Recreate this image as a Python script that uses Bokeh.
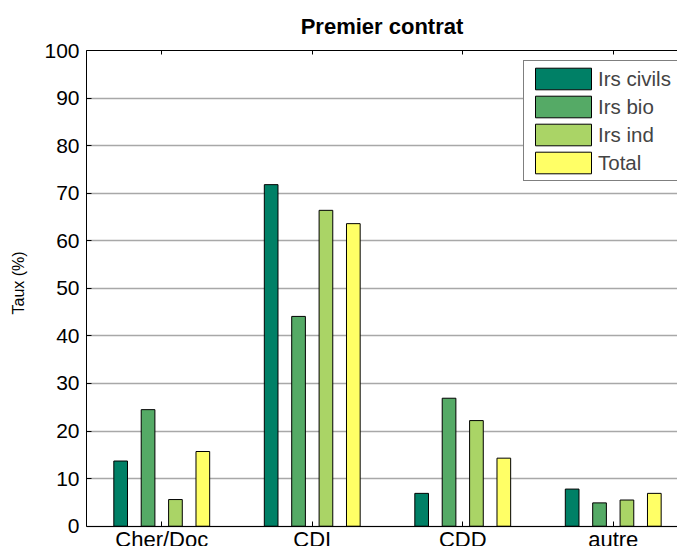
from bokeh.plotting import figure
from bokeh.models import ColumnDataSource, Range1d, FixedTicker, LinearAxis, Legend, LegendItem
from bokeh.core.properties import value
from bokeh.transform import dodge
from bokeh.embed import file_html
from bokeh.resources import INLINE

categories = ["Cher/Doc", "CDI", "CDD", "autre"]
series_names = ["Irs civils", "Irs bio", "Irs ind", "Total"]
irs_civils = [13.7, 71.8, 6.9, 7.8]
irs_bio = [24.5, 44.1, 26.9, 4.9]
irs_ind = [5.6, 66.4, 22.2, 5.5]
total = [15.7, 63.6, 14.3, 6.9]
colors = ["#008066", "#55AA66", "#AAD466", "#FFFF66"]
y_ticks = [0, 10, 20, 30, 40, 50, 60, 70, 80, 90, 100]

cat_pos = list(range(1, len(categories) + 1))
source = ColumnDataSource(data=dict(
    x=cat_pos, s0=irs_civils, s1=irs_bio, s2=irs_ind, s3=total,
    label=categories))

FONT = "Liberation Sans"

# the frame runs 20px below the zero line so that the category names can sit there
p = figure(width=677, height=546, output_backend="svg", toolbar_location=None,
           x_range=Range1d(0.5, 4.427), y_range=Range1d(-4.27, 100),
           min_border_left=86, min_border_top=50, min_border_bottom=0,
           min_border_right=0, title="Premier contrat")
p.outline_line_color = None
p.background_fill_color = "white"
p.border_fill_color = "white"

p.title.align = "center"
p.title.text_font = FONT
p.title.text_font_size = "22px"
p.title.text_font_style = "bold"
p.title.text_color = "black"
p.title.standoff = 23

# bottom axis at y = 0: line + inward ticks
xa = p.xaxis[0]
xa.fixed_location = 0
xa.ticker = FixedTicker(ticks=cat_pos)
xa.major_label_overrides = {i: "" for i in cat_pos}
xa.major_label_text_font_size = "0px"
xa.major_label_standoff = 0
xa.major_tick_in = 5
xa.major_tick_out = 0
xa.minor_tick_line_color = None
xa.axis_line_color = "black"
xa.major_tick_line_color = "black"

ya = p.yaxis[0]
ya.bounds = (0, 100)
ya.ticker = FixedTicker(ticks=y_ticks)
ya.major_label_text_font = FONT
ya.major_label_text_font_size = "21px"
ya.major_label_text_color = "black"
ya.major_label_standoff = 7
ya.major_tick_in = 5
ya.major_tick_out = 0
ya.minor_tick_line_color = None
ya.axis_line_color = "black"
ya.major_tick_line_color = "black"
# leading no-break spaces centre the visible label on the 0-100 span
ya.axis_label = "\u00a0" * 7 + "Taux (%)"
ya.axis_label_text_font = FONT
ya.axis_label_text_font_size = "16px"
ya.axis_label_text_font_style = "normal"
ya.axis_label_text_color = "black"
ya.axis_label_standoff = 14

top = LinearAxis(ticker=FixedTicker(ticks=cat_pos),
                 major_label_overrides={i: "" for i in cat_pos},
                 major_label_text_font_size="0px", major_label_standoff=0,
                 major_tick_in=4, major_tick_out=0,
                 minor_tick_line_color=None, axis_line_color="black")
p.add_layout(top, "above")

p.xgrid.grid_line_color = None
p.ygrid.ticker = FixedTicker(ticks=y_ticks)
p.ygrid.grid_line_color = "#a8a8a8"
p.ygrid.grid_line_width = 1.3

offsets = [-0.273, -0.091, 0.091, 0.273]
items = []
for i, name in enumerate(series_names):
    r = p.vbar(x=dodge("x", offsets[i], range=p.x_range), top="s%d" % i, width=0.0909,
               source=source, fill_color=colors[i], line_color="black", line_width=1)
    items.append(LegendItem(label=name, renderers=[r]))

# category names under the zero line
p.text(x="x", y=0, text="label", source=source, text_align="center",
       text_baseline="top", y_offset=1, text_font=value(FONT),
       text_font_size=value("22px"), text_color="black")

legend = Legend(items=items, location=(437, 365), padding=4, spacing=1,
                glyph_width=70, glyph_height=27, label_height=27, label_width=90,
                label_standoff=0,
                label_text_font=FONT, label_text_font_size="20.5px",
                border_line_color="black", border_line_width=1.5,
                background_fill_color="white", background_fill_alpha=1.0)
p.add_layout(legend, "center")

open("out.html", "w").write(file_html(p, INLINE))
